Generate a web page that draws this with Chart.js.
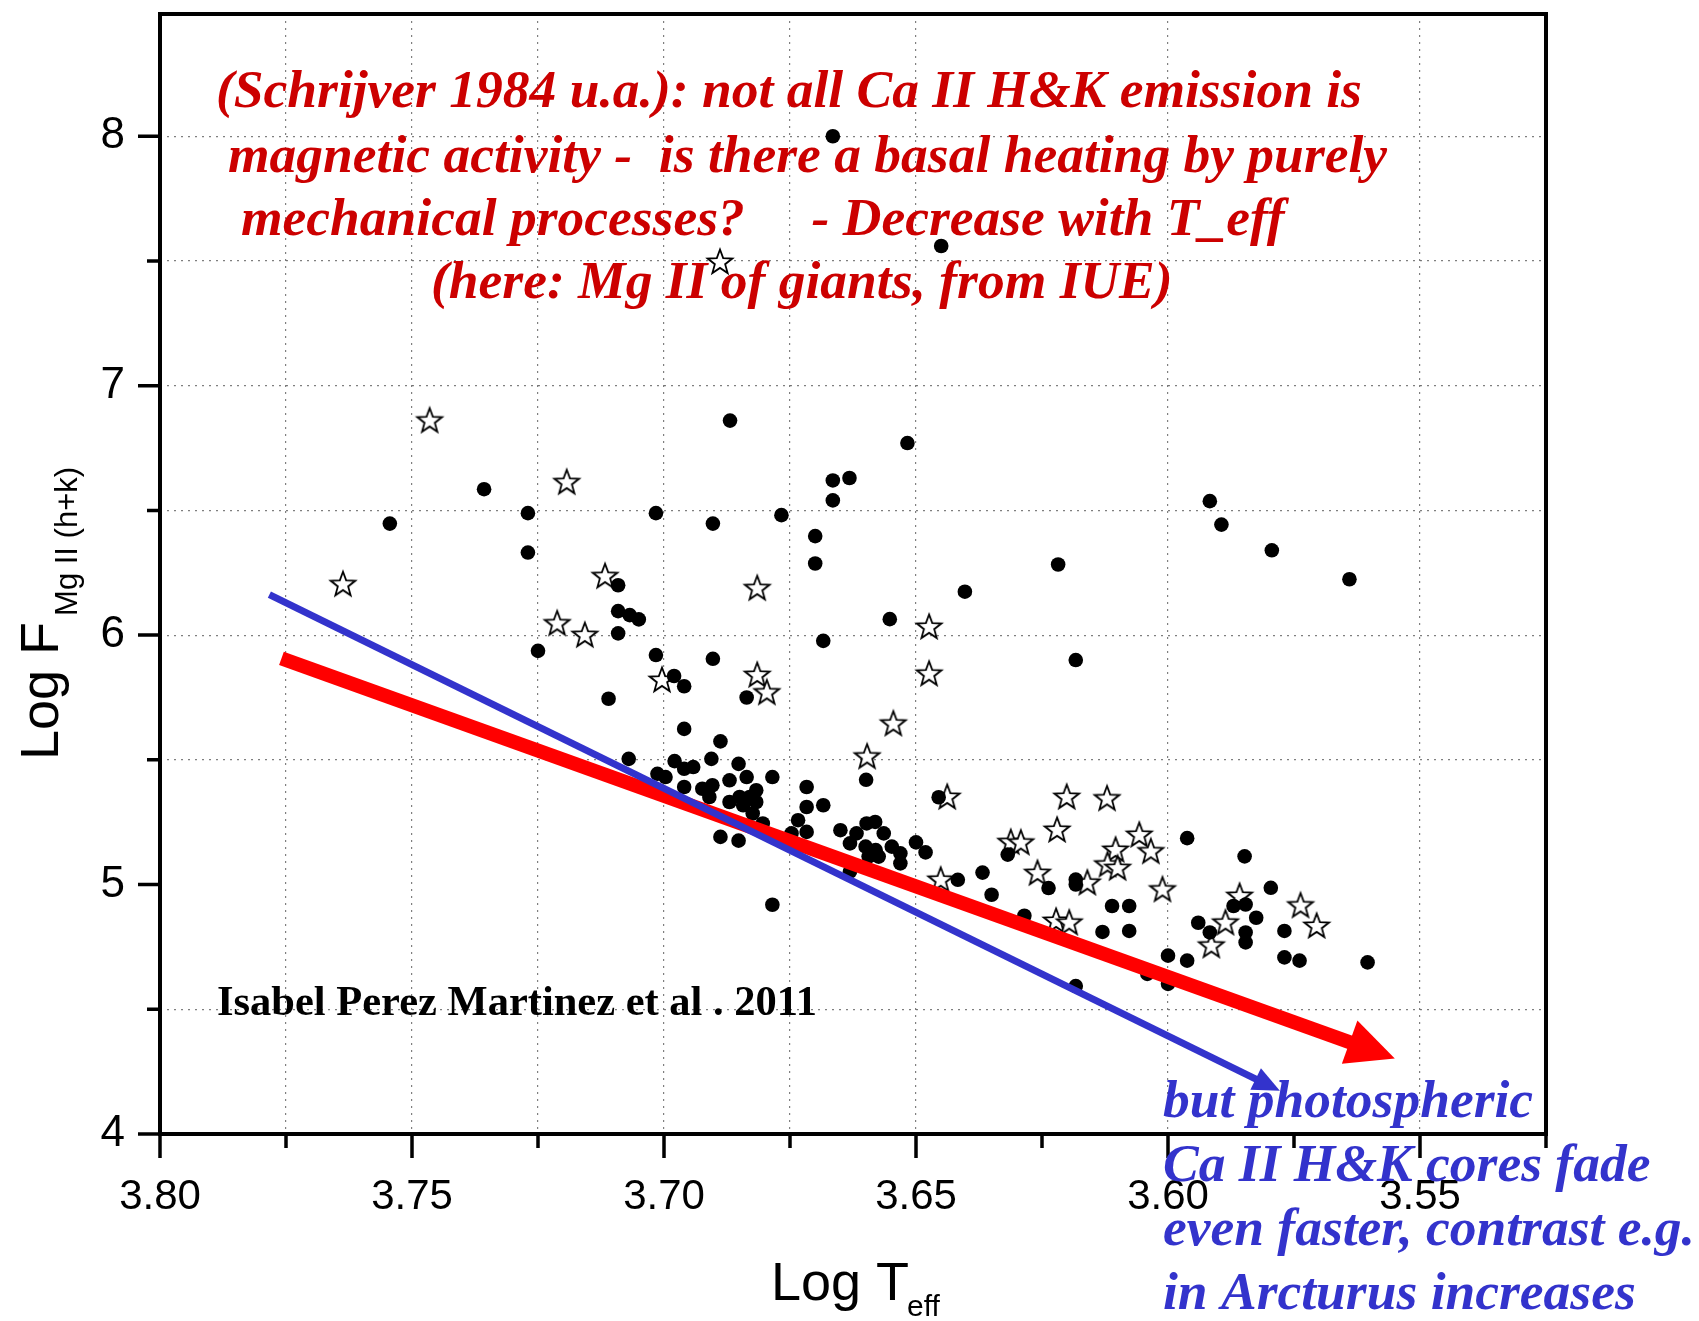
<!DOCTYPE html>
<html>
<head>
<meta charset="utf-8">
<script src="https://cdn.jsdelivr.net/npm/chart.js@4.4.1/dist/chart.umd.min.js"></script>
<style>
  html, body { margin: 0; padding: 0; background: #fff; }
  canvas { display: block; }
</style>
</head>
<body>
<canvas id="myChart" width="1699" height="1321"></canvas>
<script>
// filled circles: log Teff / log F(MgII)
var circleX = [3.6665, 3.645, 3.6869, 3.6517, 3.6632, 3.6665, 3.6665, 3.7357, 3.7544, 3.727,
  3.727, 3.7016, 3.6903, 3.6767, 3.670, 3.670, 3.6684, 3.5917, 3.5894, 3.5794,
  3.564, 3.6218, 3.6403, 3.6552, 3.6183, 3.725, 3.7091, 3.7091, 3.7068, 3.705,
  3.7091, 3.7016, 3.6903, 3.698, 3.696, 3.711, 3.6836, 3.696, 3.6888,
  3.707, 3.6979, 3.6906, 3.6852, 3.696, 3.6942, 3.7013, 3.6997, 3.6836, 3.6785,
  3.687, 3.696, 3.6924, 3.6904, 3.6817, 3.691, 3.687, 3.685, 3.683, 3.6817,
  3.6843, 3.6824, 3.6804, 3.6888, 3.6852, 3.6785, 3.6717, 3.6717, 3.6684, 3.6734,
  3.6717, 3.6747, 3.665, 3.6631, 3.6618, 3.6598, 3.6581, 3.6564, 3.660, 3.658,
  3.6594, 3.6574, 3.6548, 3.6531, 3.6531, 3.6631, 3.650, 3.6481, 3.6599, 3.6455,
  3.6417, 3.6368, 3.635, 3.6318, 3.6237, 3.6285, 3.6183, 3.6183, 3.6111, 3.6077,
  3.6077, 3.613, 3.6183, 3.6041, 3.600, 3.600, 3.5962, 3.5962, 3.5848, 3.5796,
  3.594, 3.5917, 3.587, 3.5846, 3.5846, 3.5846, 3.5825, 3.5769, 3.5769, 3.5739,
  3.5604];
var circleY = [8.00, 7.56, 6.86, 6.77, 6.63, 6.62, 6.54, 6.585, 6.447, 6.489,
  6.331, 6.489, 6.447, 6.481, 6.397, 6.287, 5.977, 6.537, 6.443, 6.34,
  6.224, 6.283, 6.174, 6.064, 5.90, 5.937, 6.20, 6.096, 6.08, 6.063,
  6.007, 5.92, 5.905, 5.836, 5.795, 5.745, 5.75, 5.624, 5.574,
  5.504, 5.495, 5.504, 5.484, 5.464, 5.471, 5.444, 5.431, 5.431, 5.431,
  5.418, 5.391, 5.384, 5.398, 5.378, 5.351, 5.331, 5.351, 5.351, 5.331,
  5.318, 5.285, 5.245, 5.191, 5.176, 4.919, 5.391, 5.311, 5.318, 5.258,
  5.211, 5.205, 5.218, 5.165, 5.205, 5.245, 5.251, 5.205, 5.152, 5.138,
  5.112, 5.112, 5.152, 5.125, 5.085, 5.052, 5.169, 5.129, 5.42, 5.35,
  5.019, 5.048, 4.959, 5.12, 4.986, 4.875, 5.02, 5.00, 4.914, 4.914,
  4.814, 4.81, 4.593, 4.642, 4.715, 4.602, 4.695, 5.186, 5.113, 4.987,
  4.847, 4.808, 4.914, 4.92, 4.808, 4.768, 4.867, 4.814, 4.708, 4.695,
  4.688];

// open stars
var starX = [3.7465, 3.7193, 3.7637, 3.7117, 3.7212, 3.7157, 3.7004, 3.6889, 3.6815, 3.6815,
  3.6796, 3.6474, 3.6474, 3.6545, 3.6597, 3.6438, 3.6451, 3.6312, 3.6292, 3.6259,
  3.6222, 3.6196, 3.6201, 3.6121, 3.622, 3.6057, 3.6034, 3.6104, 3.612, 3.610,
  3.616, 3.6011, 3.5914, 3.5886, 3.5858, 3.5737, 3.5705];
var starY = [6.86, 6.613, 6.204, 6.236, 6.047, 6.00, 5.82, 7.496, 6.188, 5.84,
  5.77, 6.033, 5.845, 5.645, 5.513, 5.351, 5.019, 5.17, 5.168, 5.046,
  4.854, 4.847, 5.351, 5.345, 5.219, 5.199, 5.133, 5.139, 5.08, 5.066,
  5.007, 4.98, 4.755, 4.847, 4.954, 4.916, 4.834];

// trend arrows (start, tip)
var redArrowX = [3.7759, 3.555];
var redArrowY = [5.907, 4.303];
var blueArrowX = [3.7783, 3.5778];
var blueArrowY = [6.162, 4.173];

var xTickLabels = ['3.55', '3.60', '3.65', '3.70', '3.75', '3.80'];
var yTickLabels = ['4', '5', '6', '7', '8'];

var redNote = [
  '(Schrijver 1984 u.a.): not all Ca II H&K emission is',
  'magnetic activity -  is there a basal heating by purely',
  'mechanical processes?     - Decrease with T_eff',
  '(here: Mg II of giants, from IUE)'
];
var blueNote = [
  'but photospheric',
  'Ca II H&K cores fade',
  'even faster, contrast e.g.',
  'in Arcturus increases'
];
var credit = 'Isabel Perez Martinez et al . 2011';

function pts(xs, ys) {
  var out = [];
  for (var i = 0; i < xs.length; i++) out.push({x: xs[i], y: ys[i]});
  return out;
}

// 5-point open star marker
var starImg = document.createElement('canvas');
starImg.width = 32; starImg.height = 32;
(function() {
  var c = starImg.getContext('2d');
  c.beginPath();
  for (var i = 0; i < 10; i++) {
    var r = (i % 2 === 0) ? 13 : 5.4;
    var a = -Math.PI / 2 + i * Math.PI / 5;
    var px = 16 + r * Math.cos(a), py = 16.5 + r * Math.sin(a);
    if (i === 0) c.moveTo(px, py); else c.lineTo(px, py);
  }
  c.closePath();
  c.fillStyle = '#fff';
  c.fill();
  c.lineWidth = 1.8;
  c.strokeStyle = '#000';
  c.stroke();
})();

function near(v, t) { return Math.abs(v - t) < 1e-6; }

function drawArrow(ctx, x0, y0, x1, y1, w, hl, hw, color) {
  var a = Math.atan2(y1 - y0, x1 - x0);
  var c = Math.cos(a), s = Math.sin(a);
  var bx = x1 - hl * c, by = y1 - hl * s;
  ctx.save();
  ctx.strokeStyle = color;
  ctx.fillStyle = color;
  ctx.lineWidth = w;
  ctx.lineCap = 'butt';
  ctx.beginPath();
  ctx.moveTo(x0, y0);
  ctx.lineTo(bx + 2 * c, by + 2 * s);
  ctx.stroke();
  ctx.beginPath();
  ctx.moveTo(x1, y1);
  ctx.lineTo(bx + hw * s, by - hw * c);
  ctx.lineTo(bx - hw * s, by + hw * c);
  ctx.closePath();
  ctx.fill();
  ctx.restore();
}

var decorations = {
  id: 'decorations',
  afterDatasetsDraw: function(chart) {
    var ctx = chart.ctx, xs = chart.scales.x, ys = chart.scales.y;
    drawArrow(ctx,
      xs.getPixelForValue(redArrowX[0]), ys.getPixelForValue(redArrowY[0]),
      xs.getPixelForValue(redArrowX[1]), ys.getPixelForValue(redArrowY[1]),
      14, 48, 23, '#ff0000');
    drawArrow(ctx,
      xs.getPixelForValue(blueArrowX[0]), ys.getPixelForValue(blueArrowY[0]),
      xs.getPixelForValue(blueArrowX[1]), ys.getPixelForValue(blueArrowY[1]),
      7, 27, 12, '#3333cc');
  },
  afterDraw: function(chart) {
    var ctx = chart.ctx, a = chart.chartArea;
    var xs = chart.scales.x, ys = chart.scales.y;
    ctx.save();
    // frame
    ctx.strokeStyle = '#000';
    ctx.lineWidth = 4;
    ctx.strokeRect(a.left, a.top, a.right - a.left, a.bottom - a.top);
    // tick marks
    ctx.lineWidth = 3.5;
    ctx.beginPath();
    for (var i = 0; i <= 11; i++) {
      var v = 3.525 + i * 0.025;
      var px = xs.getPixelForValue(v);
      var len = (i % 2 === 1) ? 24 : 14;
      ctx.moveTo(px, a.bottom);
      ctx.lineTo(px, a.bottom + len);
    }
    for (var j = 0; j <= 8; j++) {
      var yv = 4 + j * 0.5;
      var py = ys.getPixelForValue(yv);
      var l2 = (j % 2 === 0) ? 22 : 13;
      ctx.moveTo(a.left, py);
      ctx.lineTo(a.left - l2, py);
    }
    ctx.stroke();

    // axis titles
    ctx.fillStyle = '#000';
    ctx.textBaseline = 'alphabetic';
    ctx.textAlign = 'left';
    ctx.font = '54px "Liberation Sans", Arial, sans-serif';
    ctx.fillText('Log T', 771, 1300);
    var wT = ctx.measureText('Log T').width;
    ctx.font = '30px "Liberation Sans", Arial, sans-serif';
    ctx.fillText('eff', 771 + wT - 2, 1316);

    ctx.save();
    ctx.translate(58, 760);
    ctx.rotate(-Math.PI / 2);
    ctx.font = '54px "Liberation Sans", Arial, sans-serif';
    ctx.fillText('Log F', 0, 0);
    var wF = ctx.measureText('Log F').width;
    ctx.font = '31px "Liberation Sans", Arial, sans-serif';
    ctx.fillText('Mg II (h+k)', wF + 6, 19);
    ctx.restore();

    // notes
    ctx.font = 'italic bold 53.5px "Liberation Serif", "Times New Roman", serif';
    ctx.fillStyle = '#cc0000';
    var rx = [216, 228, 241, 431];
    var ry = [107, 172, 235, 298];
    for (var k = 0; k < redNote.length; k++) ctx.fillText(redNote[k], rx[k], ry[k]);

    ctx.fillStyle = '#3333cc';
    var by = [1117, 1181, 1245, 1309];
    for (var m = 0; m < blueNote.length; m++) ctx.fillText(blueNote[m], 1163, by[m]);

    ctx.font = 'bold 42.5px "Liberation Serif", "Times New Roman", serif';
    ctx.fillStyle = '#000';
    ctx.fillText(credit, 217, 1015);
    ctx.restore();
  }
};

var ctx = document.getElementById('myChart').getContext('2d');
var chart = new Chart(ctx, {
  type: 'scatter',
  data: {
    datasets: [{
      label: 'giants (circles)',
      data: pts(circleX, circleY),
      pointStyle: 'circle',
      pointRadius: 7.3,
      backgroundColor: '#000',
      borderColor: '#000',
      borderWidth: 0
    }, {
      label: 'giants (stars)',
      data: pts(starX, starY),
      pointStyle: starImg,
      pointRadius: 13
    }]
  },
  options: {
    responsive: false,
    animation: false,
    layout: { padding: { top: 9, right: 153, left: 0, bottom: 0 } },
    plugins: { legend: { display: false }, tooltip: { enabled: false } },
    scales: {
      x: {
        type: 'linear',
        reverse: true,
        min: 3.525,
        max: 3.80,
        afterFit: function(s) {
          s.height = 187;
          s.paddingLeft = 0; s.paddingRight = 0; s.paddingTop = 0; s.paddingBottom = 0;
        },
        border: { display: false, dash: [2, 5] },
        grid: {
          drawTicks: false,
          lineWidth: 1.2,
          color: function(c) {
            var v = c.tick ? c.tick.value : 0;
            if (near(v, 3.625) || near(v, 3.575) || near(v, 3.80) || near(v, 3.525)) return 'rgba(0,0,0,0)';
            return 'rgba(0,0,0,0.5)';
          }
        },
        ticks: {
          stepSize: 0.025,
          padding: 38,
          color: '#000',
          font: { family: '"Liberation Sans", Arial, sans-serif', size: 42 },
          callback: function(v) {
            var lab = Number(v).toFixed(2);
            return xTickLabels.indexOf(lab) >= 0 && near(Math.round(v * 20), v * 20) ? lab : '';
          }
        }
      },
      y: {
        min: 4,
        max: 8.49,
        afterFit: function(s) {
          s.width = 160;
          s.paddingLeft = 0; s.paddingRight = 0; s.paddingTop = 0; s.paddingBottom = 0;
        },
        border: { display: false, dash: [2, 5] },
        grid: {
          drawTicks: false,
          lineWidth: 1.2,
          color: function(c) {
            var v = c.tick ? c.tick.value : 0;
            if (near(v, 4) || near(v, 5) || !near(Math.round(v * 2), v * 2)) return 'rgba(0,0,0,0)';
            return 'rgba(0,0,0,0.5)';
          }
        },
        ticks: {
          stepSize: 0.5,
          padding: 35,
          color: '#000',
          font: { family: '"Liberation Sans", Arial, sans-serif', size: 44 },
          callback: function(v) {
            var lab = String(Math.round(v));
            return near(Math.round(v), v) && yTickLabels.indexOf(lab) >= 0 ? lab : '';
          }
        }
      }
    }
  },
  plugins: [decorations]
});
</script>
</body>
</html>
